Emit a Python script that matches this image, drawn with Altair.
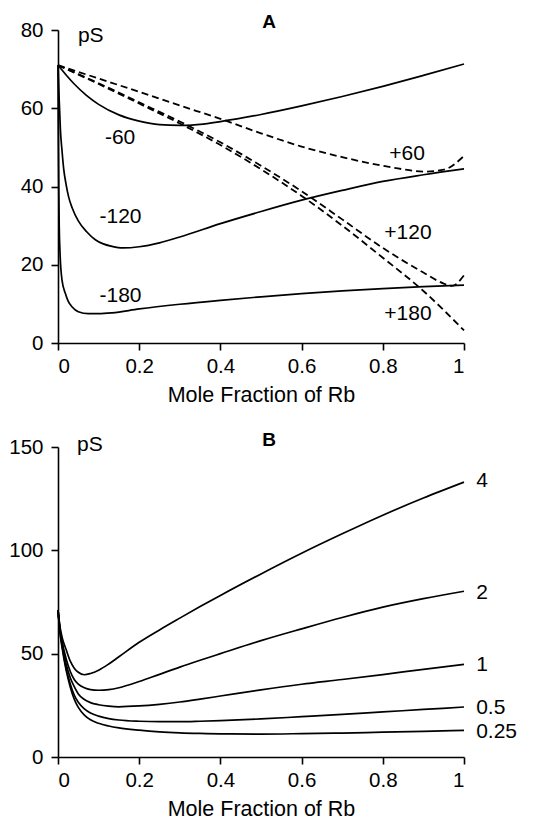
import altair as alt
import pandas as pd

FONT = "Liberation Sans"

# ---------------- Panel A ----------------
a_m60_x = [0, 0.02, 0.04, 0.07, 0.1, 0.15, 0.2, 0.25, 0.3, 0.35, 0.4, 0.5, 0.6, 0.7, 0.8, 0.9, 1.0]
a_m60_y = [71, 68.5, 66.2, 63.3, 61.0, 58.3, 56.7, 55.8, 55.6, 55.9, 56.6, 58.4, 60.6, 63.0, 65.6, 68.4, 71.3]

a_m120_x = [0, 0.003, 0.006, 0.01, 0.014, 0.02, 0.026, 0.035, 0.05, 0.07, 0.092, 0.11, 0.133, 0.16, 0.2, 0.25, 0.3, 0.4, 0.5, 0.6, 0.7, 0.8, 0.9, 1.0]
a_m120_y = [71, 62, 54.4, 49, 44.5, 40.5, 37.4, 34.5, 31.2, 28.5, 26.4, 25.4, 24.7, 24.3, 24.6, 25.6, 27.1, 30.5, 33.6, 36.5, 39.0, 41.3, 43.0, 44.5]

a_m180_x = [0, 0.001, 0.002, 0.003, 0.005, 0.01, 0.018, 0.025, 0.035, 0.05, 0.075, 0.1, 0.133, 0.2, 0.3, 0.4, 0.5, 0.6, 0.7, 0.8, 0.9, 1.0]
a_m180_y = [71, 50, 38, 30, 23, 16, 12.7, 10.7, 9.2, 8.0, 7.5, 7.5, 7.7, 8.7, 9.9, 10.9, 11.8, 12.6, 13.3, 13.9, 14.4, 14.8]

a_p60_x = [0, 0.1, 0.2, 0.3, 0.4, 0.5, 0.6, 0.7, 0.8, 0.85, 0.9, 0.95, 1.0]
a_p60_y = [71, 67.6, 64.2, 60.7, 57.3, 53.6, 50.2, 47.5, 45.3, 44.4, 43.8, 44.3, 47.8]

a_p120_x = [0, 0.1, 0.2, 0.3, 0.4, 0.5, 0.6, 0.7, 0.8, 0.9, 0.95, 0.97, 1.0]
a_p120_y = [71, 66.4, 61.5, 56.6, 51.3, 45.3, 38.8, 31.6, 24.3, 18.0, 15.2, 14.6, 17.3]

a_p180_x = [0, 0.1, 0.2, 0.3, 0.4, 0.5, 0.6, 0.7, 0.8, 0.9, 1.0]
a_p180_y = [71, 66.2, 61.2, 56.1, 50.6, 44.4, 37.6, 30.0, 21.8, 13.3, 3.2]

a_labels = ["-60", "-120", "-180", "+60", "+120", "+180"]
a_label_x = [0.153, 0.154, 0.154, 0.86, 0.862, 0.862]
a_label_y = [52.3, 32.1, 12.0, 48.3, 28.2, 7.3]

# ---------------- Panel B ----------------
b_x = [0, 0.005, 0.01, 0.02, 0.03, 0.04, 0.05, 0.065, 0.08, 0.1, 0.125, 0.15, 0.2, 0.25, 0.3, 0.35, 0.4, 0.5, 0.6, 0.7, 0.8, 0.9, 1.0]
b_4 = [71, 63, 58, 52, 46.5, 43, 41, 39.8, 40.4, 42.0, 45.0, 48.5, 55.5, 61.5, 67.2, 72.8, 78.2, 88.6, 98.6, 108, 117, 125.3, 133]
b_2 = [71, 62, 56, 47.5, 41.5, 37.5, 35.3, 33.5, 32.6, 32.3, 32.6, 33.5, 36.5, 40, 43.5, 46.8, 50, 56.3, 62, 67.5, 72.5, 76.6, 80.2]
b_1 = [71, 61, 55, 45, 38.5, 34, 30.5, 27.8, 26.3, 25.3, 24.6, 24.3, 24.7, 25.5, 26.6, 28.0, 29.5, 32.5, 35.2, 37.5, 39.9, 42.4, 44.8]
b_05 = [71, 60.5, 54, 43, 35.5, 30, 26.5, 23.3, 21.3, 19.8, 18.6, 17.9, 17.3, 17.1, 17.1, 17.3, 17.6, 18.4, 19.5, 20.6, 21.8, 23.0, 24.2]
b_025 = [71, 60, 53, 42, 34, 28, 24, 20.3, 18, 16.3, 15, 14.1, 13, 12.2, 11.7, 11.4, 11.2, 11.1, 11.3, 11.6, 12.0, 12.4, 12.9]

b_labels = ["4", "2", "1", "0.5", "0.25"]
b_label_x = [1.03, 1.03, 1.03, 1.03, 1.03]
b_label_y = [133.5, 79.3, 44.7, 23.5, 12.2]


def long(xs, ys, name, dashed):
    return pd.DataFrame({"x": xs, "y": ys, "series": name, "dashed": dashed})


dfA = pd.concat([
    long(a_m60_x, a_m60_y, "-60", False),
    long(a_m120_x, a_m120_y, "-120", False),
    long(a_m180_x, a_m180_y, "-180", False),
    long(a_p60_x, a_p60_y, "+60", True),
    long(a_p120_x, a_p120_y, "+120", True),
    long(a_p180_x, a_p180_y, "+180", True),
])
dfB = pd.concat([
    long(b_x, b_4, "4", False),
    long(b_x, b_2, "2", False),
    long(b_x, b_1, "1", False),
    long(b_x, b_05, "0.5", False),
    long(b_x, b_025, "0.25", False),
])

xscale = alt.Scale(domain=[0, 1], nice=False, zero=False)
xaxis = alt.Axis(values=[0, 0.2, 0.4, 0.6, 0.8, 1], format="~g", title="Mole Fraction of Rb")


def panel(df, ydomain, yticks, labels, lx, ly, lalign, letter, letter_y, ps_x, ps_y, w, h):
    yscale = alt.Scale(domain=ydomain, nice=False)
    yaxis = alt.Axis(values=yticks, title=None)
    base = alt.Chart(df)
    solid = base.transform_filter("!datum.dashed").mark_line(
        color="black", strokeWidth=1.7, interpolate="monotone"
    ).encode(
        x=alt.X("x:Q", scale=xscale, axis=xaxis),
        y=alt.Y("y:Q", scale=yscale, axis=yaxis),
        detail="series:N",
    )
    layers = [solid]
    if df["dashed"].any():
        dashed = base.transform_filter("datum.dashed").mark_line(
            color="black", strokeWidth=1.8, strokeDash=[7, 4], interpolate="monotone"
        ).encode(
            x=alt.X("x:Q", scale=xscale),
            y=alt.Y("y:Q", scale=yscale),
            detail="series:N",
        )
        layers.append(dashed)
    lab = alt.Chart(pd.DataFrame({"t": labels, "x": lx, "y": ly})).mark_text(
        font=FONT, fontSize=21, color="black", align=lalign, baseline="middle"
    ).encode(x="x:Q", y="y:Q", text="t:N")
    ttl = alt.Chart(pd.DataFrame({"t": [letter], "x": [0.52], "y": [letter_y]})).mark_text(
        font=FONT, fontSize=19, fontWeight="bold", color="black", align="center", baseline="alphabetic"
    ).encode(x="x:Q", y="y:Q", text="t:N")
    ps = alt.Chart(pd.DataFrame({"t": ["pS"], "x": [ps_x], "y": [ps_y]})).mark_text(
        font=FONT, fontSize=21, color="black", align="left", baseline="alphabetic"
    ).encode(x="x:Q", y="y:Q", text="t:N")
    layers += [lab, ttl, ps]
    return alt.layer(*layers).properties(width=w, height=h)


chartA = panel(dfA, [0, 80], [0, 20, 40, 60, 80], a_labels, a_label_x, a_label_y, "center",
               "A", 80.6, 0.049, 77, 406, 313)
chartB = panel(dfB, [0, 150], [0, 50, 100, 150], b_labels, b_label_x, b_label_y, "left",
               "B", 150.5, 0.047, 148, 406, 310)

chart = alt.vconcat(chartA, chartB, spacing=24).properties(
    padding={"left": 0, "top": 4, "right": 5, "bottom": 5}
).configure_view(stroke=None).configure_axis(
    grid=False,
    domainColor="black",
    domainWidth=1.6,
    tickColor="black",
    tickWidth=1.6,
    tickSize=7,
    labelFont=FONT,
    labelFontSize=20.5,
    labelColor="black",
    labelPadding=8,
    titleFont=FONT,
    titleFontSize=21.5,
    titleFontWeight="normal",
    titleColor="black",
    titlePadding=8,
).configure_axisX(labelPadding=6)

chart.save("out.html", embed_options={"renderer": "svg", "actions": False})
